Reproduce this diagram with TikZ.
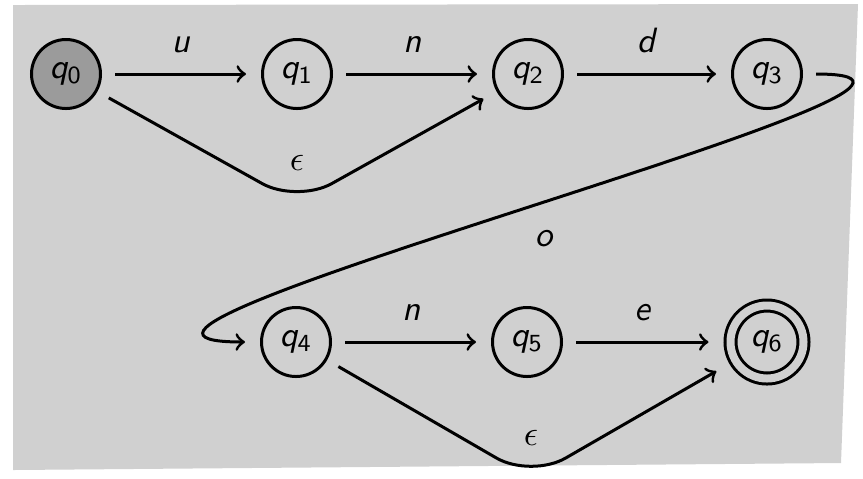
\documentclass[tikz,border=0pt]{standalone}
\usetikzlibrary{positioning}
\definecolor{bgcolor}{RGB}{208,208,208}
\definecolor{startcolor}{RGB}{155,155,155}
\DeclareMathAlphabet{\mathsfit}{OT1}{cmss}{m}{sl}

\begin{document}
\begin{tikzpicture}
  \tikzset{
    stnode/.style={
      circle,
      draw,
      line width=0.3mm,
      minimum size=6.9mm,
      inner sep=0pt
    },
    startnode/.style={
      circle,
      draw,
      line width=0.3mm,
      minimum size=6.9mm,
      inner sep=0pt,
      fill=startcolor
    },
    finalnode/.style={
      circle,
      draw,
      line width=0.3mm,
      minimum size=7.3mm,
      inner sep=0pt,
      double=bgcolor,
      double distance=0.8mm,
      outer sep=0.7mm
    },
    trans/.style={
      ->,
      line width=0.3mm,
      shorten <=1.3mm,
      shorten >=1.5mm
    },
    sym/.style={
      inner sep=0pt
    }
  }

  % Paper background
  \useasboundingbox (0,0) rectangle (8.63,-4.78);
  \fill[bgcolor] (0.13,-0.05) -- (8.58,-0.04) -- (8.41,-4.63) -- (0.13,-4.70) -- cycle;

  % Draw the states
    \node[startnode] at (0.66, -0.74) (q0) {$\mathsfit{q}_{\mathsf{0}}$};
    \node[stnode] at (2.97, -0.74) (q1) {$\mathsfit{q}_{\mathsf{1}}$};
    \node[stnode] at (5.28, -0.74) (q2) {$\mathsfit{q}_{\mathsf{2}}$};
    \node[stnode] at (7.67, -0.74) (q3) {$\mathsfit{q}_{\mathsf{3}}$};
    \node[stnode] at (2.96, -3.42) (q4) {$\mathsfit{q}_{\mathsf{4}}$};
    \node[stnode] at (5.27, -3.42) (q5) {$\mathsfit{q}_{\mathsf{5}}$};
    \node[finalnode] at (7.67, -3.42) (q6) {$\mathsfit{q}_{\mathsf{6}}$};

  % Bends of the epsilon moves
    \coordinate (dipa) at (2.97, -2.03);
    \coordinate (dipb) at (5.31, -4.78);

  % Draw the transitions
    \draw[trans] (q0) -- node[sym, above=2mm] (lu) {$\mathsfit{u}$} (q1);
    \draw[trans] (q1) -- node[sym, above=2mm] (ln1) {$\mathsfit{n}$} (q2);
    \draw[trans] (q2) -- node[sym, above=2mm] (ld) {$\mathsfit{d}$} (q3);
    \draw[trans, rounded corners=4mm] (q0) -- (dipa) node[sym, above=3.1mm] (leps1) {$\epsilon$} -- (q2);

    \draw[trans] (q3) .. controls +(2.96,0) and +(-3.1,0) .. (q4)
      node[sym, pos=0.5, below right=2.1mm and 0.7mm] (lo) {$\mathsfit{o}$};

    \draw[trans] (q4) -- node[sym, above=2mm] (ln2) {$\mathsfit{n}$} (q5);
    \draw[trans] (q5) -- node[sym, above=2mm] (le) {$\mathsfit{e}$} (q6);
    \draw[trans, rounded corners=4mm] (q4) -- (dipb) node[sym, above=3.1mm] (leps2) {$\epsilon$} -- (q6);
\end{tikzpicture}
\end{document}
